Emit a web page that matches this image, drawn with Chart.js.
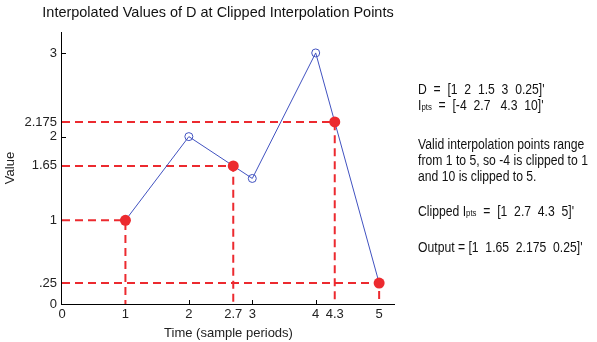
<!DOCTYPE html>
<html>
<head>
<meta charset="utf-8">
<script src="https://cdn.jsdelivr.net/npm/chart.js@4.4.1/dist/chart.umd.min.js"></script>
<style>
  body { margin: 0; background: #fff; }
  #wrap { position: relative; width: 597px; height: 342px; overflow: hidden; font-family: "Liberation Sans", Arial, sans-serif; color: #111; }
  #plot { position: absolute; left: 0; top: 0; width: 436px; height: 342px; }
  #title { position: absolute; left: 0; width: 436px; top: 3px; text-align: center; font-size: 15px; white-space: nowrap; transform: scaleX(0.965); }
  #notes { position: absolute; left: 418px; top: 81px; font-size: 14px; line-height: 16px; white-space: nowrap; transform: scaleX(0.87); transform-origin: 0 0; }
  #notes p { margin: 0; }
  .gap1 { height: 21px; }
  .gap2 { height: 19px; }
  .gap3 { height: 18px; }
  sub { font-size: 9px; vertical-align: 0; }
</style>
</head>
<body>
<div id="wrap">
  <div id="plot"><canvas id="myChart" width="436" height="342"></canvas></div>
  <div id="title">Interpolated Values of D at Clipped Interpolation Points</div>
  <div id="notes">
    <p>D &nbsp;= &nbsp;[1 &nbsp;2 &nbsp;1.5 &nbsp;3 &nbsp;0.25]'</p>
    <p>I<sub>pts</sub> &nbsp;= &nbsp;[-4 &nbsp;2.7 &nbsp;&nbsp;4.3 &nbsp;10]'</p>
    <div class="gap1"></div>
    <p>Valid interpolation points range</p>
    <p>from 1 to 5, so -4 is clipped to 1</p>
    <p>and 10 is clipped to 5.</p>
    <div class="gap2"></div>
    <p>Clipped I<sub>pts</sub> &nbsp;= &nbsp;[1 &nbsp;2.7 &nbsp;4.3 &nbsp;5]'</p>
    <div class="gap3"></div>
    <p>Output = [1 &nbsp;1.65 &nbsp;2.175 &nbsp;0.25]'</p>
  </div>
</div>
<script>
// signal samples
const dTimes = [1, 2, 3, 4, 5];
const dValues = [1, 2, 1.5, 3, 0.25];

// clipped interpolation points and the interpolated output
const clipTimes = [1, 2.7, 4.3, 5];
const outValues = [1, 1.65, 2.175, 0.25];

// axis ticks
const xTickValues = [0, 1, 2, 2.7, 3, 4, 4.3, 5];
const xTickLabels = ['0', '1', '2', '2.7', '3', '4', '4.3', '5'];
const yTickValues = [0, 0.25, 1, 1.65, 2, 2.175, 3];
const yTickLabels = ['0', '.25', '1', '1.65', '2', '2.175', '3'];

const RED = '#ec2a2f';
const BLUE = '#4152c0';
const FONT = "'Liberation Sans', Arial, sans-serif";

// dashed guides: from the y axis over to each point, then down to the x axis
const guideSets = clipTimes.map((t, i) => ({
    data: [{ x: 0, y: outValues[i] }, { x: t, y: outValues[i] }, { x: t, y: 0 }],
    borderColor: RED,
    borderWidth: 2,
    borderDash: [8, 5],
    pointRadius: 0,
    fill: false,
    order: 3
}));

// axis lines plus small inward tick marks
const axisLines = {
    id: 'axisLines',
    afterDraw(chart) {
        const ctx = chart.ctx;
        const xs = chart.scales.x, ys = chart.scales.y;
        const area = chart.chartArea;
        const left = Math.round(area.left);
        const bottom = Math.round(area.bottom);
        ctx.save();
        ctx.fillStyle = '#000';
        ctx.fillRect(left - 1, Math.round(area.top), 1, bottom - Math.round(area.top) + 1);
        ctx.fillRect(left - 1, bottom, Math.round(area.right) - left + 1, 1);
        for (let v = 2; v <= 4; v++) {
            const px = Math.round(xs.getPixelForValue(v));
            ctx.fillRect(px, bottom - 4, 1, 4);
        }
        for (let v = 2; v <= 3; v++) {
            const py = Math.round(ys.getPixelForValue(v));
            ctx.fillRect(left, py, 4, 1);
        }
        ctx.restore();
    }
};

const axisGrid = { display: true, drawOnChartArea: false, drawTicks: false };

const ctx = document.getElementById('myChart').getContext('2d');
new Chart(ctx, {
    type: 'line',
    data: {
        datasets: [
            ...guideSets,
            {
                data: dTimes.map((t, i) => ({ x: t, y: dValues[i] })),
                borderColor: BLUE,
                borderWidth: 1,
                pointRadius: 4,
                pointBorderWidth: 1,
                pointBorderColor: BLUE,
                pointBackgroundColor: 'rgba(255,255,255,0)',
                fill: false,
                order: 2
            },
            {
                data: clipTimes.map((t, i) => ({ x: t, y: outValues[i] })),
                showLine: false,
                pointRadius: 5.5,
                pointBorderWidth: 0,
                pointBackgroundColor: RED,
                pointBorderColor: RED,
                order: 1
            }
        ]
    },
    plugins: [axisLines],
    options: {
        responsive: false,
        animation: false,
        events: [],
        layout: { padding: { top: 32, right: 41, left: 0, bottom: 0 } },
        plugins: {
            legend: { display: false },
            tooltip: { enabled: false }
        },
        scales: {
            x: {
                type: 'linear',
                min: 0,
                max: 5.25,
                afterFit: s => { s.height = 38; },
                afterBuildTicks: s => { s.ticks = xTickValues.map(v => ({ value: v })); },
                ticks: {
                    autoSkip: false,
                    maxRotation: 0,
                    padding: 3,
                    color: '#222',
                    font: { family: FONT, size: 13 },
                    callback: (v, i) => xTickLabels[i]
                },
                grid: axisGrid,
                border: { display: false },
                title: {
                    display: true,
                    text: 'Time (sample periods)',
                    color: '#222',
                    font: { family: FONT, size: 13 },
                    padding: { top: 0, bottom: 1 }
                }
            },
            y: {
                type: 'linear',
                min: 0,
                max: 3.25,
                afterFit: s => { s.width = 62; },
                afterBuildTicks: s => { s.ticks = yTickValues.map(v => ({ value: v })); },
                ticks: {
                    autoSkip: false,
                    padding: 5,
                    color: '#222',
                    font: { family: FONT, size: 13 },
                    callback: (v, i) => yTickLabels[i]
                },
                grid: axisGrid,
                border: { display: false },
                title: {
                    display: true,
                    text: 'Value',
                    color: '#222',
                    font: { family: FONT, size: 13 },
                    padding: { top: 3, bottom: 0 }
                }
            }
        }
    }
});
</script>
</body>
</html>
